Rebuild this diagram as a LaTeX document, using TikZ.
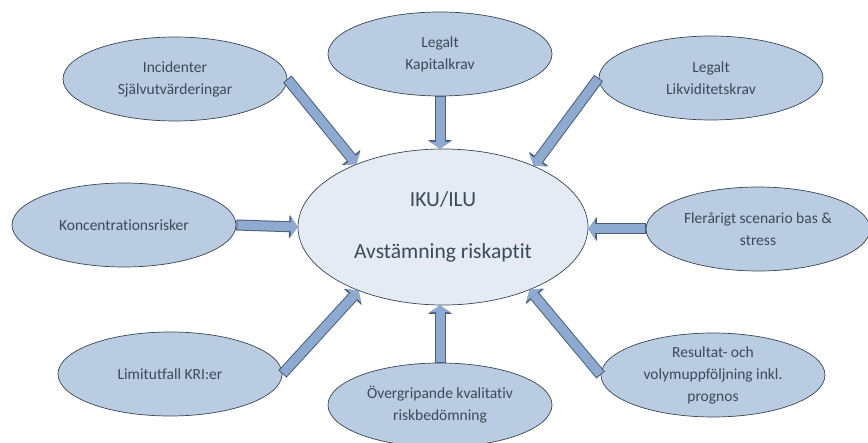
\documentclass[tikz,border=0pt]{standalone}
\usepackage{fontspec}
\setmainfont{Carlito}[Ligatures=NoCommon]
\usetikzlibrary{shapes.geometric,arrows.meta}
\definecolor{bubblefill}{HTML}{B9CCE1}
\definecolor{centerfill}{HTML}{E4EBF4}
\definecolor{linegray}{HTML}{3A4652}
\definecolor{arrowfill}{HTML}{8EAAD0}
\definecolor{arrowline}{HTML}{4A5E78}
\definecolor{textgray}{HTML}{3B4A58}

\begin{document}
\begin{tikzpicture}[x=1pt,y=-1pt,
  outer node/.style={ellipse,draw=linegray,fill=bubblefill,line width=0.7pt,inner sep=0pt,
    minimum width=224pt,minimum height=84pt,text=textgray,align=center,
    font=\fontsize{15.5}{22}\selectfont},
  main node/.style={outer node,fill=centerfill,minimum width=290pt,minimum height=156pt,
    font=\fontsize{21.5}{24}\selectfont},
  fat arrow/.style={line width=9pt,draw=arrowfill,shorten <=1pt,
    -{Triangle[length=6.8pt,width=21pt,line width=0pt]},
    preaction={draw=arrowline,line width=11pt,shorten <=0pt,
      -{Triangle[length=8.5pt,width=24pt,line width=0pt]}}}]
  \useasboundingbox (0,0) rectangle (868,443);

  \node[main node] (iku) at (443,227) {IKU/ILU\\[28pt]Avstämning riskaptit};
  \node[outer node] (kap) at (440,54) {Legalt\\Kapitalkrav};
  \node[outer node] (inc) at (175,79) {Incidenter\\Självutvärderingar};
  \node[outer node] (lik) at (711,78) {Legalt\\Likviditetskrav};
  \node[outer node] (kon) at (124,225) {Koncentrationsrisker};
  \node[outer node] (fle) at (758,229) {Flerårigt scenario bas \&\\stress};
  \node[outer node] (lim) at (170,374) {Limitutfall KRI:er};
  \node[outer node] (ovr) at (440,405) {Övergripande kvalitativ\\riskbedömning};
  \node[outer node] (res) at (713,375) {Resultat- och\\volymuppföljning inkl.\\prognos};

  \draw[fat arrow] (kap.south) -- (kap.south |- iku.north);
  \draw[fat arrow] (ovr.north) -- (ovr.north |- iku.south);
  \draw[fat arrow] (kon.east) -- (iku.west);
  \draw[fat arrow] (fle.west) -- (fle.west -| iku.east);
  \draw[fat arrow] (inc.east) -- (iku.144);
  \draw[fat arrow] (lik.west) -- (iku.34);
  \draw[fat arrow] (lim.east) -- (iku.217);
  \draw[fat arrow] (res.west) -- (iku.324);
\end{tikzpicture}
\end{document}
